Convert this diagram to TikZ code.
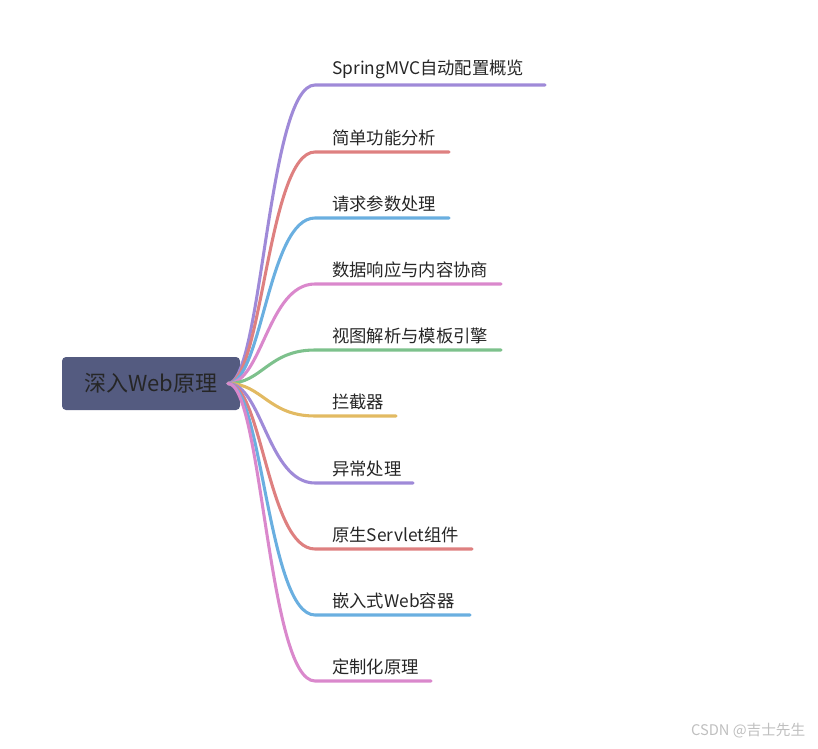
\documentclass[tikz,border=0pt]{standalone}
\usepackage{fontspec}
\setmainfont{Noto Sans CJK SC}
\begin{document}
\begin{tikzpicture}[x=0.75pt,y=-0.75pt]
\useasboundingbox (0,0) rectangle (818,749);
\definecolor{cpur}{HTML}{9F8AD8}
\definecolor{cred}{HTML}{DE8080}
\definecolor{cblu}{HTML}{6AAFE0}
\definecolor{cpnk}{HTML}{DA88CC}
\definecolor{cgrn}{HTML}{7DC18C}
\definecolor{cyel}{HTML}{E2BA62}
\definecolor{croot}{HTML}{545B80}
\tikzset{br/.style={line width=2.3pt,line cap=round},
 lab/.style={anchor=south west,inner sep=0pt,font=\fontsize{13}{15}\selectfont,text=black!85}}
\node[fill=croot,rounded corners=3pt,minimum width=133.5pt,minimum height=39.75pt,font=\fontsize{16.5}{19}\selectfont,text=black!85] (root) at (151,383.5) {深入Web原理};
\coordinate (o) at (228,383.5);
\foreach \y/\e/\c/\t [count=\i] in {85/545/cpur/SpringMVC自动配置概览,152/449/cred/简单功能分析,218/449/cblu/请求参数处理,284/501/cpnk/数据响应与内容协商,350/501/cgrn/视图解析与模板引擎,416/396/cyel/拦截器,483/413/cpur/异常处理,549/472/cred/原生Servlet组件,615/470/cblu/嵌入式Web容器,681/431/cpnk/定制化原理}{
 \coordinate (s\i) at (315,\y);
 \coordinate (e\i) at (\e,\y);
 \draw[br,\c] (o) .. controls (262,383.5) and (268,\y) .. (s\i) -- (e\i);
 \node[lab] (t\i) at (332,\y-6) {\t};
}
\node[anchor=east,text=black!25,font=\fontsize{11}{13}\selectfont] (wm) at (810,731) {CSDN @吉士先生};
\end{tikzpicture}
\end{document}
